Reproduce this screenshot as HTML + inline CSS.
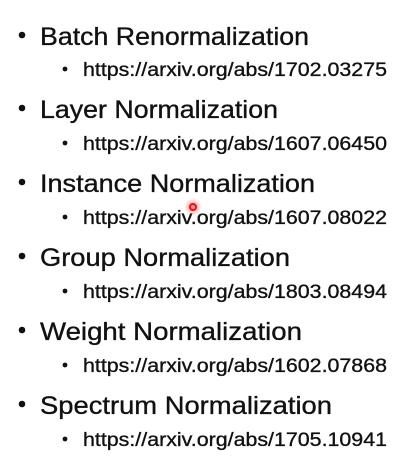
<!DOCTYPE html>
<html><head><meta charset="utf-8"><style>
html,body{margin:0;padding:0;background:#fff;}
svg{display:block;}
text{font-family:"Liberation Sans",sans-serif;fill:#111;stroke:#111;stroke-width:0.35;}
.m{font-size:25px;}
.u{font-size:19.5px;}
</style></head><body>
<svg width="405" height="458" viewBox="0 0 405 458" xmlns="http://www.w3.org/2000/svg">
<defs><radialGradient id="g"><stop offset="0" stop-color="#ff3030" stop-opacity="0.6"/><stop offset="1" stop-color="#ff3030" stop-opacity="0"/></radialGradient></defs>
<g fill="#111">
<circle cx="22" cy="35" r="3.3"/>
<text class="m" x="40" y="45" textLength="269" lengthAdjust="spacingAndGlyphs">Batch Renormalization</text>
<circle cx="65" cy="69" r="2.4"/>
<text class="u" x="83" y="76" textLength="304" lengthAdjust="spacingAndGlyphs">https://arxiv.org/abs/1702.03275</text>

<circle cx="22" cy="108" r="3.3"/>
<text class="m" x="40" y="118" textLength="238" lengthAdjust="spacingAndGlyphs">Layer Normalization</text>
<circle cx="65" cy="143" r="2.4"/>
<text class="u" x="83" y="150" textLength="304" lengthAdjust="spacingAndGlyphs">https://arxiv.org/abs/1607.06450</text>

<circle cx="22" cy="182" r="3.3"/>
<text class="m" x="40" y="192" textLength="275" lengthAdjust="spacingAndGlyphs">Instance Normalization</text>
<circle cx="65" cy="217" r="2.4"/>
<text class="u" x="83" y="224" textLength="304" lengthAdjust="spacingAndGlyphs">https://arxiv.org/abs/1607.08022</text>

<circle cx="22" cy="256" r="3.3"/>
<text class="m" x="40" y="266" textLength="250" lengthAdjust="spacingAndGlyphs">Group Normalization</text>
<circle cx="65" cy="291" r="2.4"/>
<text class="u" x="83" y="298" textLength="304" lengthAdjust="spacingAndGlyphs">https://arxiv.org/abs/1803.08494</text>

<circle cx="22" cy="330" r="3.3"/>
<text class="m" x="40" y="340" textLength="262" lengthAdjust="spacingAndGlyphs">Weight Normalization</text>
<circle cx="65" cy="365" r="2.4"/>
<text class="u" x="83" y="372" textLength="304" lengthAdjust="spacingAndGlyphs">https://arxiv.org/abs/1602.07868</text>

<circle cx="22" cy="404" r="3.3"/>
<text class="m" x="40" y="414" textLength="292" lengthAdjust="spacingAndGlyphs">Spectrum Normalization</text>
<circle cx="65" cy="439" r="2.4"/>
<text class="u" x="83" y="446" textLength="304" lengthAdjust="spacingAndGlyphs">https://arxiv.org/abs/1705.10941</text>
</g>
<circle cx="193" cy="207" r="9" fill="url(#g)"/>
<circle cx="193" cy="207" r="3" fill="none" stroke="#e81010" stroke-width="2"/>
</svg>
</body></html>
